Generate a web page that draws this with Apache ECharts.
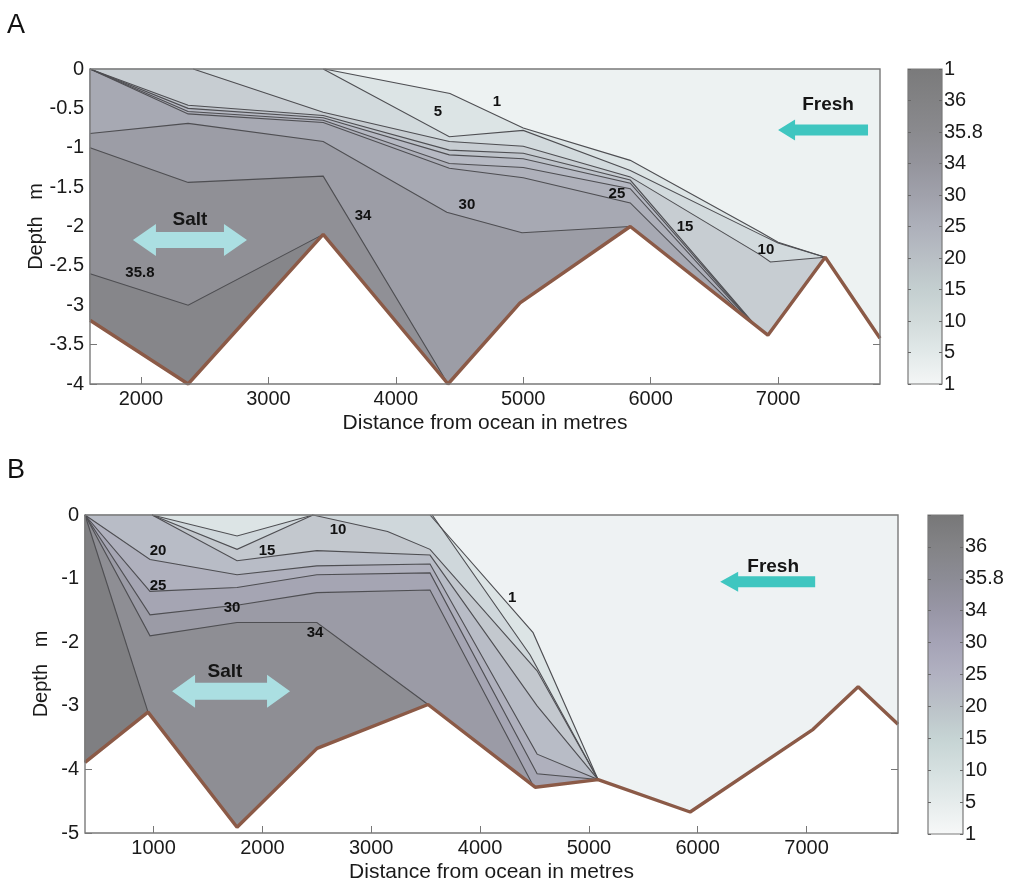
<!DOCTYPE html>
<html><head><meta charset="utf-8">
<script src="https://cdn.jsdelivr.net/npm/echarts@6/dist/echarts.min.js"></script>
<style>html,body{margin:0;padding:0;background:#fff}#c{width:1009px;height:884px}</style>
</head><body><div id="c"></div>
<script>
// ================= DATA: panel A =================
const xTicksA = [2000, 3000, 4000, 5000, 6000, 7000];
const yTicksA = [0, -0.5, -1, -1.5, -2, -2.5, -3, -3.5, -4];
const cbTicksA = ['1', '5', '10', '15', '20', '25', '30', '34', '35.8', '36', '1'];
const bedA = [[1600,-3.19],[2370,-4.0],[3430,-2.1],[4410,-4.0],[4975,-2.97],[5840,-2.0],[6920,-3.38],[7370,-2.39],[7800,-3.42]];
const contA_1   = [[3440,0],[4425,-0.31],[5000,-0.75],[5840,-1.16],[6860,-2.07],[7000,-2.2],[7370,-2.39]];
const contA_5   = [[3430,0],[4420,-0.86],[5000,-0.78],[5840,-1.29],[6860,-2.1],[7000,-2.21],[7370,-2.39]];
const contA_10  = [[2410,0],[3430,-0.55],[4420,-0.92],[5000,-0.98],[5840,-1.37],[6860,-2.36],[6940,-2.45],[7370,-2.39]];
const contA_15  = [[1600,0],[2370,-0.46],[3430,-0.59],[4420,-1.03],[5000,-1.07],[5840,-1.41],[6820,-3.252]];
const contA_20  = [[1600,0],[2370,-0.50],[3430,-0.62],[4420,-1.09],[5000,-1.14],[5840,-1.45],[6800,-3.227]];
const contA_25  = [[1600,0],[2370,-0.54],[3430,-0.65],[4420,-1.20],[5000,-1.25],[5840,-1.52],[6780,-3.201]];
const contA_25b = [[1600,0],[2370,-0.57],[3430,-0.68],[4420,-1.26],[5000,-1.38],[5840,-1.70],[6750,-3.163]];
const contA_30  = [[1600,-0.82],[2370,-0.69],[3430,-0.92],[4400,-1.82],[4990,-2.08],[5840,-2.0]];
const contA_34  = [[1600,-1.0],[2370,-1.44],[3430,-1.36],[4410,-4.0]];
const contA_358 = [[1600,-2.6],[2370,-3.0],[3430,-2.1]];
const labelTextA = ['1', '5', '30', '25', '15', '10', '34', '35.8'];
const labelPosA  = [[4794,-0.42],[4331,-0.55],[4558,-1.72],[5735,-1.58],[6270,-2.01],[6905,-2.30],[3743,-1.87],[1992,-2.59]];

// ================= DATA: panel B =================
const xTicksB = [1000, 2000, 3000, 4000, 5000, 6000, 7000];
const yTicksB = [0, -1, -2, -3, -4, -5];
const cbTicksB = ['1', '5', '10', '15', '20', '25', '30', '34', '35.8', '36', ''];
const bedB = [[370,-3.89],[949,-3.10],[1767,-4.91],[2502,-3.67],[3522,-2.98],[4506,-4.28],[5084,-4.16],[5930,-4.67],[7060,-3.37],[7474,-2.70],[7840,-3.29]];
const contB_1   = [[3540,0],[4487,-1.85],[5084,-4.16]];
const contB_5   = [[3560,0],[4460,-2.2],[5084,-4.16]];
const contB_5lens = [[986,0],[1767,-0.33],[2465,0]];
const contB_10  = [[986,0],[1767,-0.54],[2465,0],[3150,-0.26],[3540,-0.54],[4524,-2.45],[5084,-4.16]];
const contB_15  = [[986,0],[1767,-0.72],[2500,-0.56],[3540,-0.63],[4524,-3.0],[5084,-4.16]];
const contB_20  = [[370,0],[967,-0.70],[1767,-0.94],[2500,-0.80],[3540,-0.77],[4524,-3.76],[5084,-4.16]];
const contB_25  = [[370,0],[967,-1.20],[1767,-1.14],[2500,-0.94],[3540,-0.91],[4524,-4.07],[5084,-4.16]];
const contB_30  = [[370,0],[967,-1.57],[1795,-1.41],[2500,-1.22],[3540,-1.18],[4490,-4.26]];
const contB_34  = [[370,0],[967,-1.90],[1767,-1.69],[2500,-1.69],[3522,-2.98]];
const contB_36  = [[370,0],[949,-3.10]];
const labelTextB = ['20', '25', '30', '34', '15', '10', '1'];
const labelPosB  = [[1041,-0.57],[1041,-1.11],[1721,-1.46],[2483,-1.85],[2043,-0.56],[2695,-0.23],[4295,-1.30]];

// ================= styles =================
const FONT = '"Liberation Sans", Arial, Helvetica, sans-serif';
const TXT = '#1a1a1a';
const fillsA = ['#edf2f2','#dce4e5','#d2dadd','#c7cdd2','#bec3ca','#b6b9c3','#aeb0ba','#a7a9b3','#9c9da6','#909096','#86868a'];
const fillsB = ['#eef2f3','#dce4e5','#cfd7db','#dce4e5','#c3c8ce','#b8bcc6','#afb0bd','#a5a5b3','#9b9ba6','#8e8e94','#7f7f82'];
const cbColorsA = ['#7a7a7b','#828284','#8a8a8e','#94949c','#a0a1ab','#adb0ba','#b9bfc5','#c4cfd0','#d2dbdb','#e2e9e9','#f4f6f6'];
const cbColorsB = ['#777778','#838386','#8c8c95','#9896a6','#a5a3b6','#b1b1c1','#bbc2c8','#c6d4d4','#d5e0e0','#e6ecec','#f7f8f8'];

// ================= geometry helpers =================
function domain(bed) {
  const pts = [[bed[0][0], 0], [bed[bed.length - 1][0], 0]];
  for (let i = bed.length - 1; i >= 0; i--) pts.push(bed[i]);
  return pts;
}
function regionBelow(line, bed) {
  const pts = line.slice();
  const end = line[line.length - 1], start = line[0];
  const xmin = bed[0][0];
  for (let i = bed.length - 1; i >= 0; i--) if (bed[i][0] < end[0] - 1e-6) pts.push(bed[i]);
  if (start[0] > xmin + 1e-6) pts.push([xmin, 0]);
  return pts;
}
const linesA = [contA_1, contA_5, contA_10, contA_15, contA_20, contA_25, contA_25b, contA_30, contA_34, contA_358];
const polysA = [domain(bedA)].concat(linesA.map(l => regionBelow(l, bedA)));
const linesB = [contB_1, contB_5, contB_5lens, contB_10, contB_15, contB_20, contB_25, contB_30, contB_34, contB_36];
const polysB = [domain(bedB), regionBelow(contB_1, bedB), regionBelow(contB_5, bedB), contB_5lens.slice(),
  regionBelow(contB_10, bedB), regionBelow(contB_15, bedB), regionBelow(contB_20, bedB), regionBelow(contB_25, bedB),
  regionBelow(contB_30, bedB), regionBelow(contB_34, bedB), regionBelow(contB_36, bedB)];

// arrows (data-space anchors) and their pixel sizes
const arrowsA = [
  { from: [1937, -2.17], to: [2832, -2.17], both: true, hl: 23, hw: 16, sw: 8, color: '#abdfe2' },
  { from: [7000, -0.775], to: [7706, -0.775], both: false, hl: 17, hw: 10.5, sw: 5.5, color: '#3fc6c0' }
];
const arrowsB = [
  { from: [1170, -2.77], to: [2254, -2.77], both: true, hl: 23, hw: 16.5, sw: 8.5, color: '#abdfe2' },
  { from: [6206, -1.05], to: [7079, -1.05], both: false, hl: 18, hw: 10, sw: 5.5, color: '#3fc6c0' }
];
const arrowTextA = [{ t: 'Salt', p: [2385, -1.92] }, { t: 'Fresh', p: [7392, -0.46] }];
const arrowTextB = [{ t: 'Salt', p: [1656, -2.46] }, { t: 'Fresh', p: [6693, -0.82] }];

// ================= series builders =================
function fillSeries(xi, yi, polys, fills) {
  return { type: 'custom', xAxisIndex: xi, yAxisIndex: yi, z: 2, silent: true,
    data: polys.map((p, i) => [p[0][0], p[0][1], i]), encode: { x: 0, y: 1 },
    renderItem: (params, api) => {
      const i = api.value(2);
      return { type: 'polygon', shape: { points: polys[i].map(q => api.coord(q)) },
        style: { fill: fills[i], stroke: fills[i], lineWidth: 0.6 } };
    } };
}
function lineSeries(xi, yi, lines) {
  return { type: 'custom', xAxisIndex: xi, yAxisIndex: yi, z: 3, silent: true,
    data: lines.map((l, i) => [l[0][0], l[0][1], i]), encode: { x: 0, y: 1 },
    renderItem: (params, api) => {
      const i = api.value(2);
      return { type: 'polyline', shape: { points: lines[i].map(q => api.coord(q)) },
        style: { fill: null, stroke: '#4e4e52', lineWidth: 1.1 } };
    } };
}
function bedSeries(xi, yi, bed) {
  return { type: 'line', xAxisIndex: xi, yAxisIndex: yi, z: 4, silent: true, symbol: 'none',
    data: bed, lineStyle: { color: '#8b5a47', width: 3.4 }, clip: true };
}
function labelSeries(xi, yi, texts, pos) {
  return { type: 'custom', xAxisIndex: xi, yAxisIndex: yi, z: 5, silent: true,
    data: pos.map((p, i) => [p[0], p[1], i]), encode: { x: 0, y: 1 },
    renderItem: (params, api) => {
      const c = api.coord([api.value(0), api.value(1)]);
      return { type: 'text', x: c[0], y: c[1],
        style: { text: texts[api.value(2)], fontSize: 15, fontWeight: 'bold', fontFamily: FONT,
          fill: '#111', align: 'center', verticalAlign: 'middle' } };
    } };
}
function arrowSeries(xi, yi, arrows, texts) {
  const data = arrows.map((a, i) => [a.from[0], a.from[1], i, 0]).concat(texts.map((t, i) => [t.p[0], t.p[1], i, 1]));
  return { type: 'custom', xAxisIndex: xi, yAxisIndex: yi, z: 5, silent: true,
    data, encode: { x: 0, y: 1 },
    renderItem: (params, api) => {
      const i = api.value(2);
      if (api.value(3) === 1) {
        const t = texts[i]; const c = api.coord(t.p);
        return { type: 'text', x: c[0], y: c[1],
          style: { text: t.t, fontSize: 19, fontWeight: 'bold', fontFamily: FONT, fill: '#151515',
            align: 'center', verticalAlign: 'middle' } };
      }
      const a = arrows[i];
      const p0 = api.coord(a.from), p1 = api.coord(a.to);
      const x0 = p0[0], x1 = p1[0], y = p0[1];
      let pts;
      if (a.both) {
        pts = [[x0, y], [x0 + a.hl, y - a.hw], [x0 + a.hl, y - a.sw], [x1 - a.hl, y - a.sw], [x1 - a.hl, y - a.hw],
               [x1, y], [x1 - a.hl, y + a.hw], [x1 - a.hl, y + a.sw], [x0 + a.hl, y + a.sw], [x0 + a.hl, y + a.hw]];
      } else {
        pts = [[x0, y], [x0 + a.hl, y - a.hw], [x0 + a.hl, y - a.sw], [x1, y - a.sw], [x1, y + a.sw],
               [x0 + a.hl, y + a.sw], [x0 + a.hl, y + a.hw]];
      }
      return { type: 'polygon', shape: { points: pts }, style: { fill: a.color } };
    } };
}
function frameSeries(xi, yi, anchor) {
  return { type: 'custom', xAxisIndex: xi, yAxisIndex: yi, z: 8, silent: true,
    data: [anchor], encode: { x: 0, y: 1 },
    renderItem: (params) => {
      const cs = params.coordSys;
      return { type: 'rect', shape: { x: cs.x, y: cs.y, width: cs.width, height: cs.height },
        style: { fill: null, stroke: '#7a7a7a', lineWidth: 1.4 } };
    } };
}
function cbarSeries(xi, yi, colors) {
  return { type: 'custom', xAxisIndex: xi, yAxisIndex: yi, z: 2, silent: true,
    data: [[0, 0]], encode: { x: 0, y: 1 },
    renderItem: (params) => {
      const cs = params.coordSys;
      return { type: 'rect', shape: { x: cs.x, y: cs.y, width: cs.width, height: cs.height },
        style: { fill: { type: 'linear', x: 0, y: 0, x2: 0, y2: 1,
          colorStops: colors.map((c, k) => ({ offset: k / (colors.length - 1), color: c })) },
          stroke: '#7a7a7a', lineWidth: 1.2 } };
    } };
}

// ================= axes =================
const tickStyle = { lineStyle: { color: '#777', width: 1 } };
function mainX(gi, min, max, ticks) {
  return { type: 'value', gridIndex: gi, min, max, position: 'bottom',
    name: 'Distance from ocean in metres', nameLocation: 'middle', nameGap: 29, nameMoveOverlap: false,
    nameTextStyle: { fontSize: 21, color: TXT, fontFamily: FONT },
    axisLine: { show: false, onZero: false }, splitLine: { show: false },
    axisTick: { show: true, inside: true, length: 7, customValues: ticks, ...tickStyle },
    axisLabel: { show: true, customValues: ticks, fontSize: 20, color: TXT, fontFamily: FONT, margin: 5,
      formatter: v => String(v) } };
}
function mainY(gi, min, max, ticks, gap) {
  return { type: 'value', gridIndex: gi, min, max, position: 'left',
    name: 'Depth   m', nameLocation: 'middle', nameGap: gap, nameRotate: 90, nameMoveOverlap: false,
    nameTextStyle: { fontSize: 20, color: TXT, fontFamily: FONT },
    axisLine: { show: false, onZero: false }, splitLine: { show: false },
    axisTick: { show: true, inside: true, length: 7, customValues: ticks, ...tickStyle },
    axisLabel: { show: true, customValues: ticks, fontSize: 20, color: TXT, fontFamily: FONT, margin: 6,
      formatter: v => String(v) } };
}
function rightY(gi, min, max, ticks) {
  return { type: 'value', gridIndex: gi, min, max, position: 'right',
    axisLine: { show: false, onZero: false }, splitLine: { show: false },
    axisTick: { show: true, inside: true, length: 7, customValues: ticks, ...tickStyle },
    axisLabel: { show: false } };
}
const cbVals = [0,1,2,3,4,5,6,7,8,9,10];
function cbarY(gi, labels, side) {
  return { type: 'value', gridIndex: gi, min: 0, max: 10, position: side, z: 6,
    axisLine: { show: false, onZero: false }, splitLine: { show: false },
    axisTick: { show: true, inside: true, length: 3, customValues: cbVals, lineStyle: { color: '#666' } },
    axisLabel: side === 'right' ? { show: true, customValues: cbVals, fontSize: 20, color: TXT, fontFamily: FONT, margin: 2,
      formatter: v => labels[Math.round(v)] } : { show: false } };
}
const hiddenX = gi => ({ type: 'value', gridIndex: gi, min: 0, max: 1, show: false });

const option = {
  animation: false,
  backgroundColor: '#ffffff',
  grid: [
    { left: 90, top: 69, width: 790, height: 315 },
    { left: 908, top: 69, width: 34, height: 315 },
    { left: 85, top: 515, width: 813, height: 319 },
    { left: 928, top: 515, width: 35, height: 319 }
  ],
  xAxis: [ mainX(0, 1600, 7800, xTicksA), hiddenX(1), mainX(2, 370, 7840, xTicksB), hiddenX(3) ],
  yAxis: [
    mainY(0, -4, 0, yTicksA, 44), rightY(0, -4, 0, yTicksA), cbarY(1, cbTicksA, 'right'), cbarY(1, cbTicksA, 'left'),
    mainY(2, -5, 0, yTicksB, 34), rightY(2, -5, 0, yTicksB), cbarY(3, cbTicksB, 'right'), cbarY(3, cbTicksB, 'left')
  ],
  graphic: [
    { type: 'text', left: 7, top: 12, style: { text: 'A', fontSize: 27, fill: '#111', fontFamily: FONT } },
    { type: 'text', left: 7, top: 457, style: { text: 'B', fontSize: 27, fill: '#111', fontFamily: FONT } }
  ],
  series: [
    fillSeries(0, 0, polysA, fillsA),
    lineSeries(0, 0, linesA),
    bedSeries(0, 0, bedA),
    labelSeries(0, 0, labelTextA, labelPosA),
    arrowSeries(0, 0, arrowsA, arrowTextA),
    frameSeries(0, 0, [1600, 0]),
    cbarSeries(1, 2, cbColorsA),
    fillSeries(2, 4, polysB, fillsB),
    lineSeries(2, 4, linesB),
    bedSeries(2, 4, bedB),
    labelSeries(2, 4, labelTextB, labelPosB),
    arrowSeries(2, 4, arrowsB, arrowTextB),
    frameSeries(2, 4, [370, 0]),
    cbarSeries(3, 6, cbColorsB)
  ]
};
const chart = echarts.init(document.getElementById('c'), null, { renderer: 'canvas' });
chart.setOption(option);
</script></body></html>
